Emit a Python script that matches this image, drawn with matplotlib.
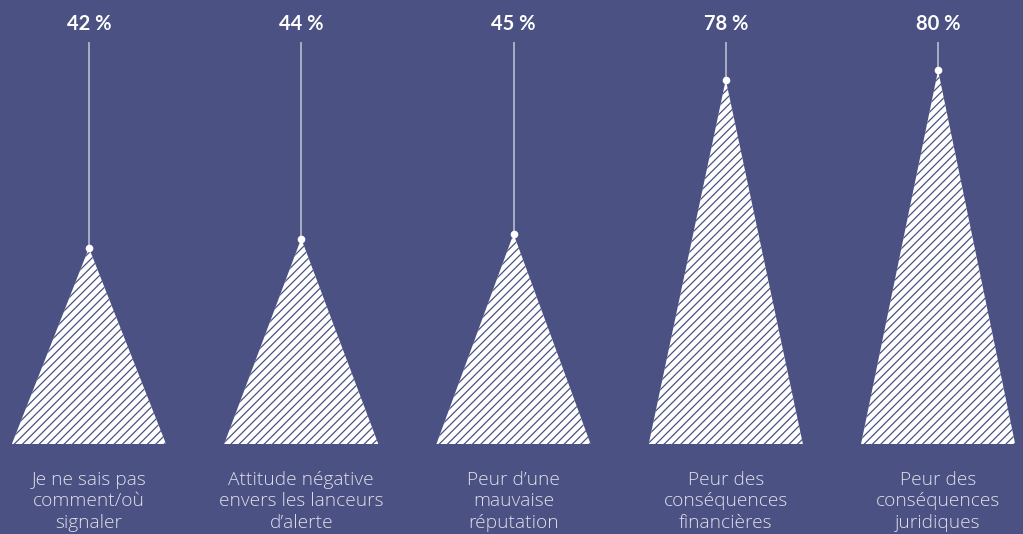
import matplotlib
matplotlib.use("Agg")
import matplotlib.pyplot as plt

categories = [
    "Je ne sais pas\ncomment/où\nsignaler",
    "Attitude négative\nenvers les lanceurs\nd’alerte",
    "Peur d’une\nmauvaise\nréputation",
    "Peur des\nconséquences\nfinancières",
    "Peur des\nconséquences\njuridiques",
]
values = [42, 44, 45, 78, 80]

BG = "#4b5182"
plt.rcParams["hatch.linewidth"] = 0.9

fig = plt.figure(figsize=(10.23, 5.34), dpi=100, facecolor=BG)
ax = fig.add_axes([0, 0, 1, 1])
ax.set_facecolor(BG)
ax.set_xlim(-0.419, 4.400)
ax.set_ylim(-19.27, 95.07)
ax.axis("off")

half_w = 0.363
line_step = 4.6
for i, (cat, v) in enumerate(zip(categories, values)):
    # hatched triangle rising to the value
    ax.fill([i - half_w, i, i + half_w], [0, v, 0], facecolor="white",
            edgecolor=BG, linewidth=0, hatch="////", zorder=2)
    # leader line from the apex up to the percentage label
    ax.plot([i, i], [v, 86.1], color="#c4c6d8", linewidth=1.1, zorder=3,
            solid_capstyle="butt")
    ax.plot(i, v, "o", color="white", markersize=5.5, markeredgewidth=0,
            zorder=4)
    ax.text(i, 88.65, f"{v} %", ha="center", va="baseline", color="white",
            fontsize=14.5, fontweight="bold", family="Lato")
    for k, line in enumerate(cat.split("\n")):
        ax.text(i, -8.78 - k * line_step, line, ha="center", va="baseline",
                color="#dfe0ea", fontsize=13.8, fontweight=300,
                family="Open Sans")

fig.savefig("out.png", dpi=100, facecolor=BG)
